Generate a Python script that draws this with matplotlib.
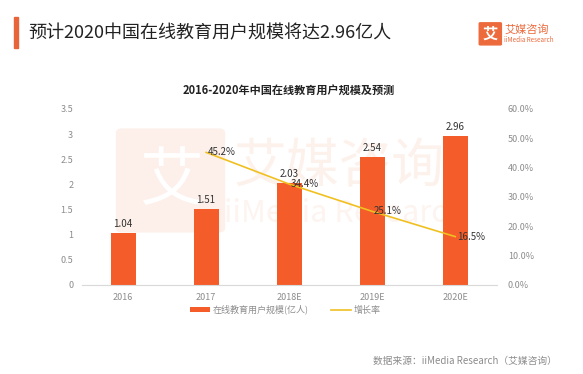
import matplotlib.pyplot as plt
from matplotlib.patches import FancyBboxPatch, Rectangle

plt.rcParams['font.family'] = ['Noto Sans CJK SC', 'DejaVu Sans']

# dados
anos = ['2016', '2017', '2018E', '2019E', '2020E']
usuarios = [1.04, 1.51, 2.03, 2.54, 2.96]
crescimento = [None, 45.2, 34.4, 25.1, 16.5]
y_ticks = [0, 0.5, 1, 1.5, 2, 2.5, 3, 3.5]
y2_ticks = [0, 10, 20, 30, 40, 50, 60]

laranja = '#F45D2A'
amarelo = '#F0C020'
cinza = '#8C8C8C'

fig = plt.figure(figsize=(5.83, 3.74), dpi=100)
fig.patch.set_facecolor('white')

# cabeçalho
fig.patches.append(Rectangle((0.024, 0.872), 0.007, 0.083, transform=fig.transFigure,
                             color='#E8643A'))
fig.text(0.048, 0.912, '预计2020中国在线教育用户规模将达2.96亿人', fontsize=13,
         color='#222222', va='center')
fig.patches.append(FancyBboxPatch((0.824, 0.882), 0.034, 0.055, transform=fig.transFigure,
                                  boxstyle='round,pad=0.002', color='#EC6A3C'))
fig.text(0.841, 0.909, '艾', fontsize=11, color='white', va='center', ha='center',
         fontweight='bold')
fig.text(0.865, 0.921, '艾媒咨询', fontsize=8, color='#EC6A3C', va='center')
fig.text(0.865, 0.892, 'iiMedia Research', fontsize=4.5, color='#EC6A3C', va='center')

ax = fig.add_axes([0.14, 0.238, 0.712, 0.4706])
x = list(range(len(anos)))

# marca d'água (fraca, atrás das barras)
ax.add_patch(FancyBboxPatch((0.21, 0.39), 0.165, 0.255, transform=fig.transFigure,
                            boxstyle='round,pad=0.01', color='#FDF0EA', zorder=0.5))
ax.text(0.293, 0.515, '艾', fontsize=46, color='white', ha='center', va='center',
        transform=fig.transFigure, zorder=0.6)
ax.text(0.40, 0.555, '艾媒咨询', fontsize=38, color='#FDF1EC', va='center',
        transform=fig.transFigure, zorder=0.6)
ax.text(0.385, 0.43, 'iiMedia Research', fontsize=22, color='#FDF4F0', va='center',
        transform=fig.transFigure, zorder=0.6)

ax.bar(x, usuarios, width=0.3, color=laranja, zorder=2, label='在线教育用户规模(亿人)')
for xi, v in zip(x, usuarios):
    ax.text(xi, v + 0.08, f'{v:.2f}', ha='center', va='bottom', fontsize=7, color='#333333',
            zorder=3)

ax.set_xlim(-0.5, len(anos) - 0.5)
ax.set_ylim(0, 3.5)
ax.set_yticks(y_ticks)
ax.set_yticklabels([f'{t:g}' for t in y_ticks])
ax.set_xticks(x)
ax.set_xticklabels(anos)
ax.tick_params(length=0, labelsize=6.5, labelcolor=cinza, pad=6)
for s in ['top', 'right', 'left']:
    ax.spines[s].set_visible(False)
ax.spines['bottom'].set_color('#D9D9D9')

ax2 = ax.twinx()
xs = [xi for xi, c in zip(x, crescimento) if c is not None]
cs = [c for c in crescimento if c is not None]
ax2.plot(xs, cs, color=amarelo, lw=1.2, zorder=3, label='增长率')
for xi, c in zip(xs, cs):
    ax2.text(xi + 0.02, c, f'{c}%', ha='left', va='center', fontsize=7, color='#333333')
ax2.set_ylim(0, 60)
ax2.set_yticks(y2_ticks)
ax2.set_yticklabels([f'{t:.1f}%' for t in y2_ticks])
ax2.tick_params(length=0, labelsize=6.5, labelcolor=cinza, pad=8)
for s in ['top', 'right', 'left', 'bottom']:
    ax2.spines[s].set_visible(False)

ax.set_title('2016-2020年中国在线教育用户规模及预测', fontsize=8, fontweight='bold',
             color='#222222', pad=11)

h1, l1 = ax.get_legend_handles_labels()
h2, l2 = ax2.get_legend_handles_labels()
fig.legend(h1 + h2, l1 + l2, loc='center', bbox_to_anchor=(0.49, 0.172), ncol=2,
           frameon=False, fontsize=6.5, labelcolor=cinza, handlelength=2.2,
           handleheight=0.5, columnspacing=2.5, handletextpad=0.3)

fig.text(0.955, 0.035, '数据来源：iiMedia Research（艾媒咨询）', fontsize=7, color=cinza,
         ha='right', va='center')

fig.savefig('out.png', dpi=100)
